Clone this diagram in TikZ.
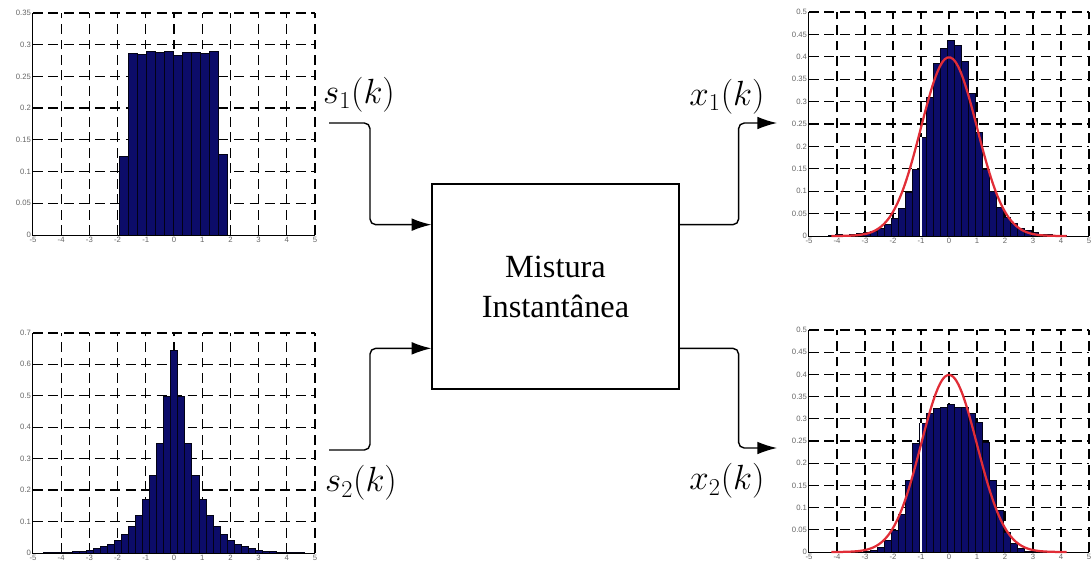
\documentclass[tikz,border=0pt]{standalone}
\usepackage{fontspec}
\setmainfont{Liberation Serif}
\newfontfamily\ticksf{Liberation Sans}
\usetikzlibrary{positioning,arrows.meta,calc}
\definecolor{barblue}{RGB}{12,12,105}
\definecolor{fitred}{RGB}{225,45,55}
% grid of one histogram panel: #1 = top of the y axis, #2 = y grid values
\newcommand{\panelgrid}[2]{%
  \foreach \gx in {-4,...,5} \draw[gridline] (\gx,0) -- (\gx,#1);
  \foreach \gy in {#2} \draw[gridline] (-5,\gy) -- (5,\gy);}
% axes and tick labels of one panel
\newcommand{\panelaxes}[2]{%
  \draw[axisline] (-5,#1) -- (-5,0) -- (5,0);
  \foreach \gx in {-5,...,5} \node[ticklab,anchor=north] at (\gx,0) {\gx};
  \foreach \gy in {0,#2} \node[ticklab,anchor=east] at (-5,\gy) {\gy};}

\begin{document}
\begin{tikzpicture}[x=0.025cm,y=-0.025cm,>=Latex,
  gridline/.style={black,line width=0.9pt,dash pattern=on 7pt off 4pt},
  axisline/.style={black,line width=0.7pt},
  ticklab/.style={font=\ticksf\fontsize{5.5}{5.5}\selectfont,text=black!60,inner sep=1.2pt},
  bar/.style={fill=barblue,draw=black!80!barblue,line width=0.2pt},
  cutline/.style={white,line width=0.8pt},
  gauss/.style={fitred,line width=1.6pt},
  mixbox/.style={draw,line width=0.8pt,minimum width=6.175cm,minimum height=5.125cm,
    align=center,font=\fontsize{23}{28.5}\selectfont},
  siglab/.style={font=\fontsize{23}{27}\selectfont},
  sig/.style={line width=1pt,rounded corners=4pt,-{Latex[length=14pt,width=9pt]}}]
\useasboundingbox (0,0) rectangle (1092,567);

% ---- source s1: uniform histogram ----
\begin{scope}[shift={(174,235)},x=0.705cm,y=15.86cm]
\panelgrid{0.35}{0.05,0.1,0.15,0.2,0.25,0.3,0.35}
\foreach \i/\h in {0/0.125,1/0.287,2/0.285,3/0.289,4/0.288,5/0.290,6/0.283,7/0.288,8/0.288,9/0.286,10/0.289,11/0.128}
  \draw[bar] ({-1.93+0.317*\i},0) rectangle ({-1.93+0.317*(\i+1)},\h);
\panelaxes{0.35}{0.05,0.1,0.15,0.2,0.25,0.3,0.35}
\end{scope}

% ---- source s2: laplacian histogram ----
\begin{scope}[shift={(174,553)},x=0.705cm,y=7.86cm]
\panelgrid{0.7}{0.1,0.2,0.3,0.4,0.5,0.6,0.7}
\foreach \k in {-18,...,18} {
  \pgfmathsetmacro\h{\k==0 ? 0.645 : 0.711*exp(-0.3536*abs(\k))}
  \draw[bar] ({0.25*\k-0.125},0) rectangle ({0.25*\k+0.125},\h);
}
\panelaxes{0.7}{0.1,0.2,0.3,0.4,0.5,0.6,0.7}
\end{scope}

% ---- mixture x1 with gaussian fit ----
\begin{scope}[shift={(949,236)},x=0.7cm,y=11.2cm]
\panelgrid{0.5}{0.05,0.1,0.15,0.2,0.25,0.3,0.35,0.4,0.45,0.5}
\foreach \k/\h in {-17/0.003,-16/0.004,-15/0.003,-14/0.004,-13/0.006,-12/0.008,-11/0.011,-10/0.017,-9/0.027,-8/0.04,-7/0.062,-6/0.098,-5/0.15,-4/0.22,-3/0.31,-2/0.385,-1/0.42,0/0.437,1/0.427,2/0.39,3/0.318,4/0.232,5/0.15,6/0.10,7/0.065,8/0.043,9/0.028,10/0.018,11/0.012,12/0.008,13/0.005,14/0.004,15/0.003,16/0.003}
  \draw[bar] ({0.25*\k-0.075},0) rectangle ({0.25*\k+0.175},\h);
\draw[cutline] (-1,0) -- (-1,0.22);
\panelaxes{0.5}{0.05,0.1,0.15,0.2,0.25,0.3,0.35,0.4,0.45,0.5}
\draw[gauss] plot[domain=-4.2:4.2,samples=90,smooth] (\x,{0.3989*exp(-0.5*(\x)*(\x))});
\end{scope}

% ---- mixture x2 with gaussian fit ----
\begin{scope}[shift={(949,552)},x=0.7cm,y=11.1cm]
\panelgrid{0.5}{0.05,0.1,0.15,0.2,0.25,0.3,0.35,0.4,0.45,0.5}
\foreach \k/\h in {-12/0.001,-11/0.004,-10/0.01,-9/0.026,-8/0.049,-7/0.086,-6/0.162,-5/0.245,-4/0.29,-3/0.313,-2/0.325,-1/0.327,0/0.332,1/0.327,2/0.326,3/0.313,4/0.293,5/0.248,6/0.162,7/0.094,8/0.045,9/0.019,10/0.008,11/0.003,12/0.001}
  \draw[bar] ({0.25*\k-0.075},0) rectangle ({0.25*\k+0.175},\h);
\draw[cutline] (-1,0) -- (-1,0.29);
\panelaxes{0.5}{0.05,0.1,0.15,0.2,0.25,0.3,0.35,0.4,0.45,0.5}
\draw[gauss] plot[domain=-4.2:4.2,samples=90,smooth] (\x,{0.3989*exp(-0.5*(\x)*(\x))});
\end{scope}

% ---- mixing block and signals ----
\node[mixbox] (mix) at (555.5,286.5) {Mistura\\Instantânea};
\coordinate (in1) at ($(mix.north west)!0.2!(mix.south west)$);
\coordinate (in2) at ($(mix.north west)!0.8!(mix.south west)$);
\coordinate (out1) at ($(mix.north east)!0.2!(mix.south east)$);
\coordinate (out2) at ($(mix.north east)!0.8!(mix.south east)$);
\coordinate (s1) at (329,123);
\coordinate (s2) at (329,450);
\coordinate (x1) at (777,123);
\coordinate (x2) at (777,448);
\draw[sig] (s1) -- ++(41,0) |- (in1);
\draw[sig] (s2) -- ++(41,0) |- (in2);
\draw[sig] (out1) -- ++(59,0) |- (x1);
\draw[sig] (out2) -- ++(59,0) |- (x2);
\node[siglab] (s1lab) at (359,95) {$s_1(k)$};
\node[siglab] (s2lab) at (361,483) {$s_2(k)$};
\node[siglab] (x1lab) at (727,97) {$x_1(k)$};
\node[siglab] (x2lab) at (727,481) {$x_2(k)$};
\end{tikzpicture}
\end{document}
